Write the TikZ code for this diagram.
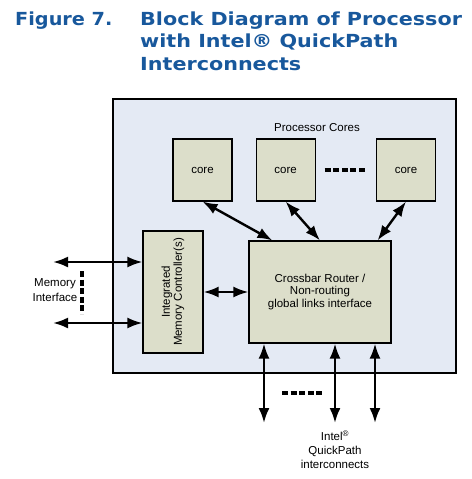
\documentclass[tikz,border=0pt]{standalone}
\usepackage{fontspec}
\setmainfont{Liberation Sans}
\newfontfamily\titlefont[FakeStretch=1.15]{DejaVu Sans}
\newfontfamily\figfont[FakeStretch=1.07]{DejaVu Sans}
\usetikzlibrary{calc,positioning,arrows.meta}
\definecolor{chipbg}{RGB}{228,234,244}
\definecolor{blockfill}{RGB}{220,222,202}
\definecolor{titleblue}{RGB}{24,88,156}
\tikzset{
	block/.style={draw,line width=1.1pt,rectangle,fill=blockfill,inner sep=0pt},
	core/.style={block,minimum width=59pt,minimum height=62pt},
	link/.style={line width=2.4pt,{Latex[length=15pt,width=11pt]}-{Latex[length=15pt,width=11pt]}},
	gap/.style={line width=3.4pt,dash pattern=on 6pt off 2.6pt},
	heading/.style={anchor=base west,inner sep=0pt,text=titleblue,
		font=\titlefont\bfseries\fontsize{18}{22}\selectfont}
}

\begin{document}
\begin{tikzpicture}[x=1pt,y=1pt,font=\fontsize{11.5}{13}\selectfont]
\useasboundingbox (0,0) rectangle (471,-479);

% title
\node[heading,font=\figfont\bfseries\fontsize{18}{22}\selectfont] (fig) at (15,-25) {Figure 7.};
\node[heading] (ttlA) at (140,-25) {Block Diagram of Processor};
\node[heading] (ttlB) at (140,-47.5) {with Intel® QuickPath};
\node[heading] (ttlC) at (140,-70) {Interconnects};

% processor
\node[draw,line width=1.1pt,fill=chipbg,minimum width=343pt,minimum height=274pt] (chip) at (284.5,-236) {};
\node (cores) at (317,-128) {Processor Cores};

\node[core] (core1) at (202.5,-170) {core};
\node[core,right=23pt of core1] (core2) {core};
\node[core] (core3) at (406,-170) {core};

\node[block,minimum width=142pt,minimum height=102pt,align=center,
	font=\fontsize{11.5}{12.5}\selectfont] (xbar) at (320,-292)
	{Crossbar Router /\\Non-routing\\global links interface};
\node[block,minimum width=60pt,minimum height=122pt,
	label={[rotate=90,align=center,font=\fontsize{11.5}{12}\selectfont]center:Integrated\\Memory Controller(s)}] (imc) at (173,-292) {};

\node[align=center,font=\fontsize{11.5}{15}\selectfont] (mem) at (55,-290) {Memory\\Interface};
\node[align=center,font=\fontsize{11.5}{14}\selectfont] (qpi) at (335,-450) {Intel\textsuperscript{®}\\QuickPath\\interconnects};

\coordinate (memA) at (53,-262);
\coordinate (memB) at (53,-323);
\coordinate (qpA) at (264,-423);
\coordinate (qpB) at (335,-423);
\coordinate (qpC) at (375,-423);

\draw[link] (core1.south) -- ($(xbar.north west)+(24,0)$);
\draw[link] (core2.south) -- (xbar.north);
\draw[link] (core3.south) -- ($(xbar.north east)+(-14,0)$);
\draw[link] (imc.east) -- (imc.east -| xbar.west);
\draw[link] (memA) -- (memA -| imc.west);
\draw[link] (memB) -- (memB -| imc.west);
\draw[link] (qpA |- xbar.south) -- (qpA);
\draw[link] (qpB |- xbar.south) -- (qpB);
\draw[link] (qpC |- xbar.south) -- (qpC);

\draw[gap] ($(core2.east)+(9,0)$) -- ($(core3.west)+(-11,0)$);
\draw[gap] (82,-271) -- (82,-314);
\draw[gap] (282,-393) -- (324,-393);

\end{tikzpicture}
\end{document}
